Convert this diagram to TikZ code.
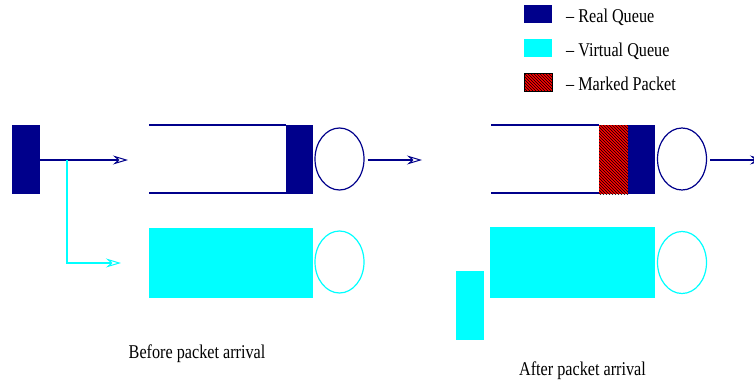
\documentclass[tikz,border=0pt]{standalone}
\usepackage{fontspec}
\setmainfont{Liberation Serif}
\usetikzlibrary{arrows.meta,patterns,shapes.geometric}
\definecolor{realq}{RGB}{0,0,139}
\definecolor{virtq}{RGB}{0,255,255}
\definecolor{markq}{RGB}{255,0,0}
% narrow, tall serif lettering used for all labels
\newcommand{\narrowtext}[1]{\scalebox{0.83}[1]{\fontsize{19.5}{23}\selectfont #1}}

\begin{document}
\begin{tikzpicture}[x=1pt,y=-1pt,
  blk/.style={inner sep=0pt,outer sep=0pt,draw=none},
  realbox/.style={blk,fill=realq},
  virtbox/.style={blk,fill=virtq},
  markbox/.style={blk,fill=markq,postaction={pattern=north west lines,pattern color=black}},
  server/.style={ellipse,draw=#1,line width=1.2pt,minimum width=49pt,minimum height=62pt,inner sep=0pt},
  flow/.style={draw=#1,line width=1.3pt,-{Stealth[open,fill=white,length=15pt,width=9pt,inset=5pt,line width=1pt]}},
  wall/.style={draw=realq,line width=1.1pt},
  lbl/.style={inner sep=0pt,anchor=base west}
]
\useasboundingbox (0,0) rectangle (754,383);

% ---------- legend ----------
\node[realbox,minimum width=28pt,minimum height=18pt,anchor=north west] (legR) at (524,5) {};
\node[virtbox,minimum width=28pt,minimum height=18pt,anchor=north west] (legV) at (524,39) {};
\node[markbox,draw=black,line width=0.5pt,minimum width=28pt,minimum height=18pt,anchor=north west] (legM) at (524,73) {};
\node[lbl] (txtR) at (566,22) {\narrowtext{-- Real Queue}};
\node[lbl] (txtV) at (566,56.5) {\narrowtext{-- Virtual Queue}};
\node[lbl] (txtM) at (566,90) {\narrowtext{-- Marked Packet}};

% ---------- before packet arrival ----------
\node[realbox,minimum width=28pt,minimum height=69pt,anchor=north west] (pkt) at (12,125) {};
\coordinate (split) at (67,160);
\coordinate (inReal) at (128,160);
\coordinate (bend) at (67,263);
\coordinate (inVirt) at (121,263);
\draw[flow=realq] (pkt.east |- split) -- (inReal);
\draw[flow=virtq] (split) -- (bend) -- (inVirt);

% real queue
\node[realbox,minimum width=27pt,minimum height=69pt,anchor=north west] (headA) at (286,125) {};
\draw[wall] (149,125) -- (headA.north west);
\draw[wall] (149,193) -- (headA.south west |- 0,193);
\node[server=realq] (srvA) at (339.5,159) {};
\coordinate (outA) at (422,160);
\draw[flow=realq] (srvA.east |- outA) ++(3,0) -- (outA);

% virtual queue
\node[virtbox,minimum width=164pt,minimum height=70pt,anchor=north west] (vqA) at (149,228) {};
\node[server=virtq] (vsrvA) at (339.5,262) {};

\node[lbl,anchor=base] (capA) at (197,358) {\narrowtext{Before packet arrival}};

% ---------- after packet arrival ----------
\node[markbox,minimum width=29pt,minimum height=69pt,anchor=north west] (mark) at (599,125) {};
\node[realbox,minimum width=27pt,minimum height=69pt,anchor=north west] (headB) at (628,125) {};
\draw[wall] (491,125) -- (mark.north west);
\draw[wall] (491,193) -- (mark.south west |- 0,193);
\node[server=realq] (srvB) at (682,159) {};
\coordinate (outB) at (765,160);
\draw[flow=realq] (srvB.east |- outB) ++(3,0) -- (outB);

\node[virtbox,minimum width=165pt,minimum height=71pt,anchor=north west] (vqB) at (490,227) {};
\node[server=virtq] (vsrvB) at (682,262.5) {};
\node[virtbox,minimum width=28pt,minimum height=69pt,anchor=north west] (newpkt) at (456,271) {};

\node[lbl,anchor=base] (capB) at (582.5,375) {\narrowtext{After packet arrival}};
\end{tikzpicture}
\end{document}
